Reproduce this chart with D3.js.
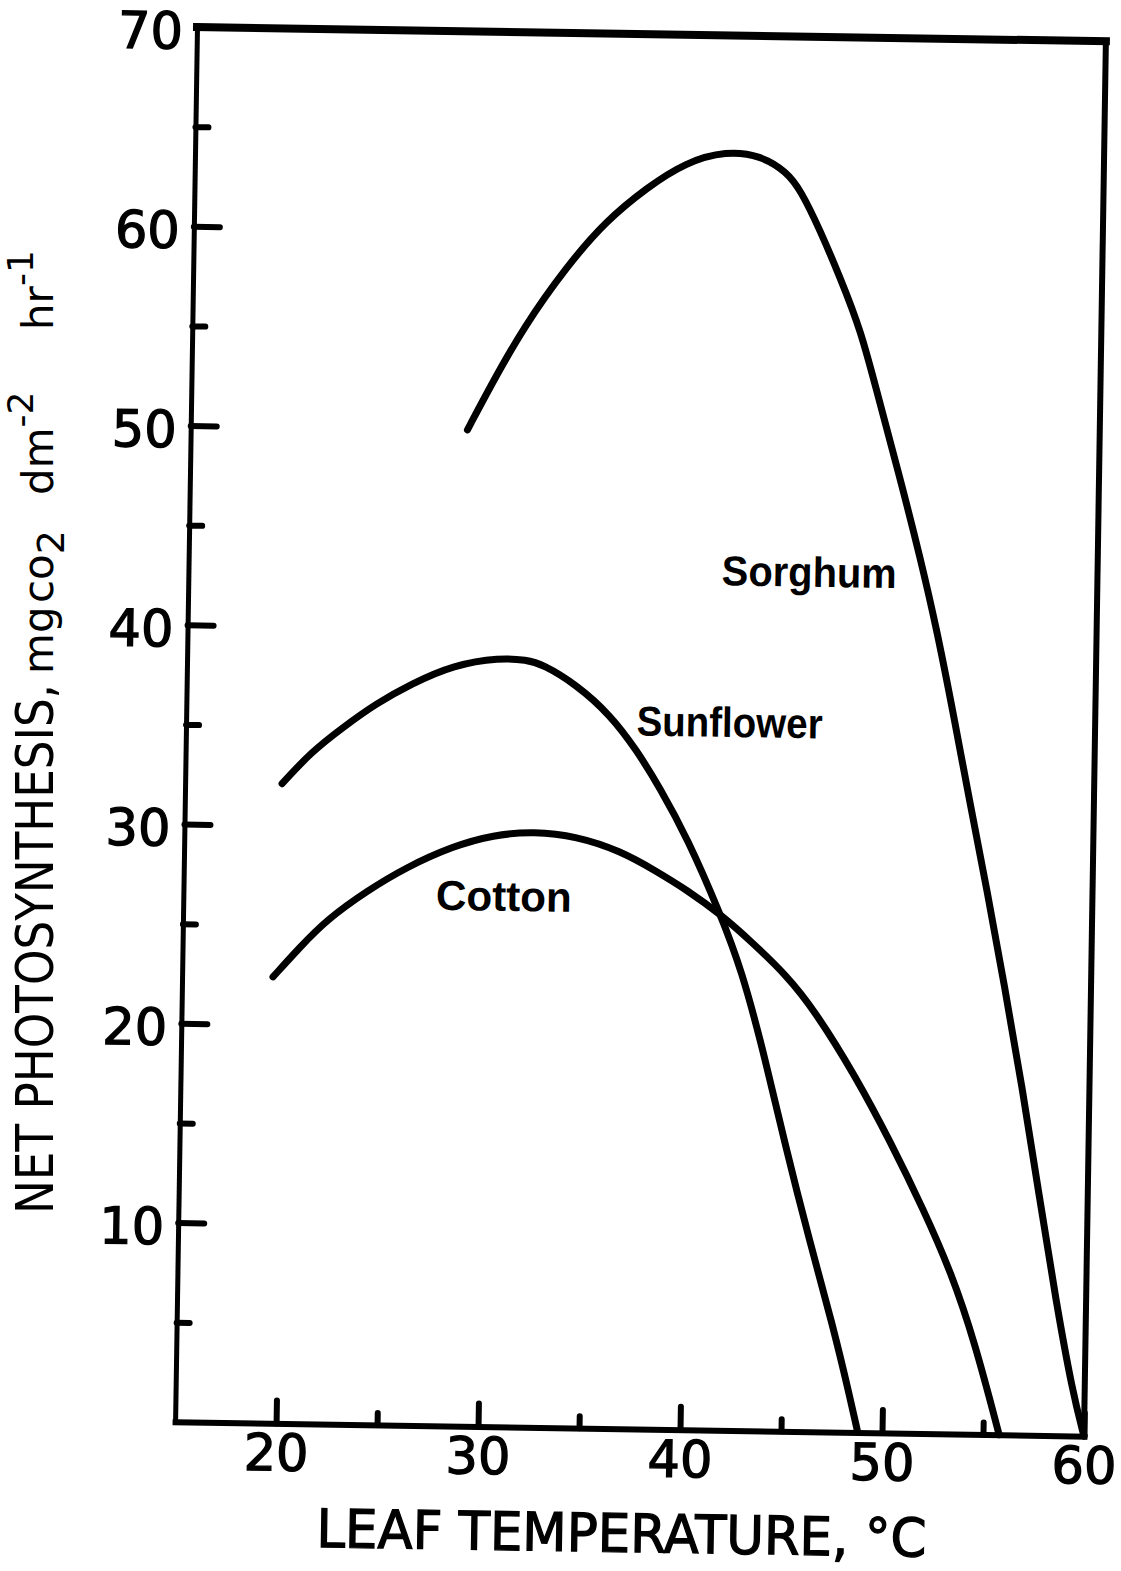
<!DOCTYPE html>
<html>
<head>
<meta charset="utf-8">
<script src="https://cdn.jsdelivr.net/npm/d3@7"></script>
<style>
  html, body { margin: 0; padding: 0; background: #ffffff; }
  svg { display: block; }
</style>
</head>
<body>
<svg id="chart" width="1121" height="1571"></svg>
<script>
// ---------------- data ----------------
const xDomain = [15, 60];          // leaf temperature, °C
const yDomain = [0, 70];           // net photosynthesis
const xMajorTicks = [20, 30, 40, 50, 60];
const xMinorTicks = [25, 35, 45, 55];
const yMajorTicks = [10, 20, 30, 40, 50, 60, 70];
const yMinorTicks = [5, 15, 25, 35, 45, 55, 65];

const sorghumTemp = [28.7, 29.8, 31.4, 33.5, 35.4, 37.4, 39.3, 41.3, 43.0, 44.3, 45.0, 46.0, 47.0, 48.1, 49.0, 50.1, 51.2, 52.1, 53.0, 53.9, 54.8, 55.7, 56.7, 57.6, 58.5, 59.4, 60.0];
const sorghumRate = [50.0, 52.2, 55.2, 58.3, 60.6, 62.3, 63.6, 64.2, 64.0, 63.2, 62.3, 60.3, 58.0, 55.3, 52.0, 48.1, 44.0, 40.3, 36.0, 31.5, 27.2, 22.6, 17.3, 12.0, 6.8, 2.2, 0.0];

const sunflowerTemp = [19.8, 21.2, 22.8, 24.4, 26.1, 28.2, 30.5, 31.8, 32.6, 34.3, 36.0, 37.3, 38.5, 39.9, 41.6, 42.7, 43.9, 45.0, 46.2, 47.5, 48.4, 48.8];
const sunflowerRate = [32.1, 33.7, 35.0, 36.2, 37.2, 38.2, 38.6, 38.5, 38.3, 37.3, 35.8, 34.1, 32.2, 29.7, 25.9, 23.1, 18.8, 14.3, 9.8, 5.3, 1.7, 0.0];

const cottonTemp = [19.5, 20.8, 22.1, 24.1, 26.0, 28.3, 30.3, 32.3, 34.4, 36.6, 38.4, 39.9, 41.6, 43.2, 44.9, 46.3, 48.4, 50.2, 51.9, 53.3, 54.5, 55.8];
const cottonRate = [22.4, 23.9, 25.3, 26.8, 28.0, 29.1, 29.7, 29.9, 29.7, 29.0, 28.0, 27.1, 25.9, 24.5, 22.9, 21.2, 17.9, 14.6, 11.2, 8.1, 4.7, 0.0];

const seriesNames = ["Sorghum", "Sunflower", "Cotton"];
// label anchors (left end of baseline) in data units
const labelTemp = [41.4, 37.3, 27.5];
const labelRate = [42.4, 34.8, 25.9];

const xTitle = "LEAF TEMPERATURE, °C";
const yTitleMain = "NET PHOTOSYNTHESIS,";

// ---------------- layout ----------------
const plotLeft = 197, plotTop = 27, plotWidth = 909, plotHeight = 1395;
const tilt = 0.9; // the scanned figure is slightly rotated

const svg = d3.select("#chart");
svg.append("rect").attr("width", 1121).attr("height", 1571).attr("fill", "#fff");

const x = d3.scaleLinear().domain(xDomain).range([plotLeft, plotLeft + plotWidth]);
const y = d3.scaleLinear().domain(yDomain).range([plotTop + plotHeight, plotTop]);

const g = svg.append("g").attr("transform", `rotate(${tilt},${plotLeft},${plotTop})`);

const tickFont = "'DejaVu Sans', 'Liberation Sans', sans-serif";

function styleAxis(sel, w) {
  sel.attr("font-family", tickFont).attr("font-size", 51);
  sel.selectAll("path.domain").attr("stroke", "#000").attr("stroke-width", w).attr("stroke-linecap", "square");
  sel.selectAll(".tick line").attr("stroke", "#000").attr("stroke-width", 6).attr("stroke-linecap", "round");
  sel.selectAll(".tick text").attr("fill", "#000").attr("stroke", "#000").attr("stroke-width", 1.3);
}

// bottom axis (major + minor)
const xAxisMajor = g.append("g")
  .attr("transform", `translate(0,${y(0)})`)
  .call(d3.axisBottom(x).tickValues(xMajorTicks).tickSizeInner(-23).tickSizeOuter(0).tickPadding(11).tickFormat(d3.format("d")));
styleAxis(xAxisMajor, 6);
const xAxisMinor = g.append("g")
  .attr("transform", `translate(0,${y(0)})`)
  .call(d3.axisBottom(x).tickValues(xMinorTicks).tickSizeInner(-12).tickSizeOuter(0).tickFormat(""));
xAxisMinor.select("path.domain").remove();
styleAxis(xAxisMinor, 6);

// left axis (major + minor)
const yAxisMajor = g.append("g")
  .attr("transform", `translate(${x(xDomain[0])},0)`)
  .call(d3.axisLeft(y).tickValues(yMajorTicks).tickSizeInner(-26).tickSizeOuter(0).tickPadding(14).tickFormat(d3.format("d")));
styleAxis(yAxisMajor, 5);
yAxisMajor.selectAll(".tick text").attr("dy", "0.42em");
const yAxisMinor = g.append("g")
  .attr("transform", `translate(${x(xDomain[0])},0)`)
  .call(d3.axisLeft(y).tickValues(yMinorTicks).tickSizeInner(-13).tickSizeOuter(0).tickFormat(""));
yAxisMinor.select("path.domain").remove();
styleAxis(yAxisMinor, 5);

// top and right frame
g.append("line")
  .attr("x1", x(xDomain[0])).attr("x2", x(xDomain[1]))
  .attr("y1", y(yDomain[1])).attr("y2", y(yDomain[1]))
  .attr("stroke", "#000").attr("stroke-width", 8).attr("stroke-linecap", "square");
g.append("line")
  .attr("x1", x(xDomain[1])).attr("x2", x(xDomain[1]))
  .attr("y1", y(yDomain[1])).attr("y2", y(yDomain[0]))
  .attr("stroke", "#000").attr("stroke-width", 6).attr("stroke-linecap", "square");

// curves
const series = [
  d3.zip(sorghumTemp, sorghumRate),
  d3.zip(sunflowerTemp, sunflowerRate),
  d3.zip(cottonTemp, cottonRate)
];
const line = d3.line().x(d => x(d[0])).y(d => y(d[1])).curve(d3.curveBasis);
g.selectAll("path.curve").data(series).join("path")
  .attr("class", "curve")
  .attr("d", line)
  .attr("fill", "none")
  .attr("stroke", "#000")
  .attr("stroke-width", 7)
  .attr("stroke-linecap", "round")
  .attr("stroke-linejoin", "round");

// series labels
const labelLengths = [175, 186, 136];
g.selectAll("text.series-label").data(seriesNames).join("text")
  .attr("class", "series-label")
  .attr("x", (d, i) => x(labelTemp[i]))
  .attr("y", (d, i) => y(labelRate[i]))
  .attr("font-family", "'Liberation Sans', Arial, sans-serif")
  .attr("font-weight", "bold")
  .attr("font-size", 42)
  .attr("textLength", (d, i) => labelLengths[i])
  .attr("lengthAdjust", "spacingAndGlyphs")
  .attr("fill", "#000")
  .text(d => d);

// x axis title
g.append("text")
  .attr("x", 340).attr("y", 1545)
  .attr("font-family", tickFont)
  .attr("font-size", 53)
  .attr("textLength", 610)
  .attr("lengthAdjust", "spacingAndGlyphs")
  .attr("fill", "#000")
  .attr("stroke", "#000")
  .attr("stroke-width", 1.3)
  .text(xTitle);

// y axis title (vertical, reading upward)
const yT = svg.append("g").attr("transform", "translate(53,0) rotate(-90)");
yT.append("text")
  .attr("x", -1214).attr("y", 0)
  .attr("font-family", tickFont)
  .attr("font-size", 51)
  .attr("textLength", 530)
  .attr("lengthAdjust", "spacingAndGlyphs")
  .attr("fill", "#000")
  .text(yTitleMain);

const unit = yT.append("text")
  .attr("y", 0)
  .attr("font-family", tickFont)
  .attr("font-size", 42)
  .attr("fill", "#000");
unit.append("tspan").attr("x", -674).text("mg");
unit.append("tspan").attr("x", -603).text("co");
unit.append("tspan").attr("dy", 11).attr("font-size", 38).text("2");
unit.append("tspan").attr("x", -495).attr("dy", -11).text("dm");
unit.append("tspan").attr("dy", -20).attr("font-size", 36).text("-2");
unit.append("tspan").attr("x", -330).attr("dy", 20).text("hr");
unit.append("tspan").attr("dy", -20).attr("font-size", 36).text("-1");
</script>
</body>
</html>
